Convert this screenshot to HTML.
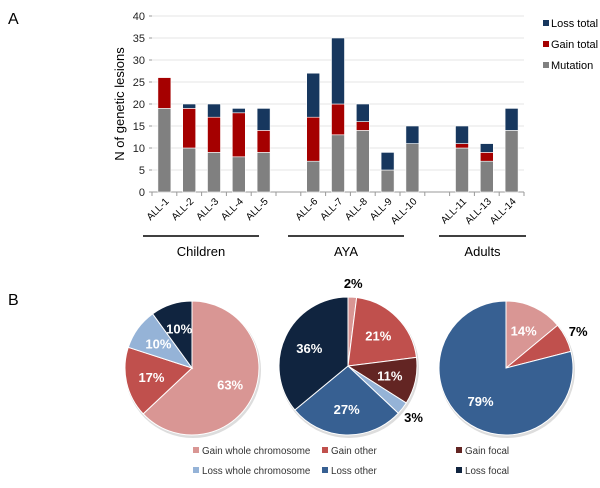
<!DOCTYPE html>
<html><head><meta charset="utf-8"><style>
body{margin:0;background:#fff;font-family:"Liberation Sans",sans-serif;}
svg text{font-family:"Liberation Sans",sans-serif;}
</style></head><body>
<svg id="c" width="600" height="483" viewBox="0 0 600 483" xmlns="http://www.w3.org/2000/svg">
<text x="8" y="24" font-size="16">A</text>
<text x="8" y="305" font-size="16">B</text>
<g id="bars"></g>
<g id="pies"></g>
</svg>
<script>
const categories=["ALL-1","ALL-2","ALL-3","ALL-4","ALL-5","","ALL-6","ALL-7","ALL-8","ALL-9","ALL-10","","ALL-11","ALL-13","ALL-14"];
const mutation=[19,10,9,8,9,null,7,13,14,5,11,null,10,7,14];
const gainTotal=[7,9,8,10,5,null,10,7,2,0,0,null,1,2,0];
const lossTotal=[0,1,3,1,5,null,10,15,4,4,4,null,4,2,5];
const yTicks=[0,5,10,15,20,25,30,35,40];
const pieLabels=["Gain whole chromosome","Gain other","Gain focal","Loss whole chromosome","Loss other","Loss focal"];
const pieChildren=[63,17,0,10,0,10];
const pieAYA=[2,21,11,3,27,36];
const pieAdults=[14,7,0,0,79,0];
const NS="http://www.w3.org/2000/svg";
function mk(t,a,p){const e=document.createElementNS(NS,t);for(const k in a)e.setAttribute(k,a[k]);p.appendChild(e);return e;}
const gb=document.getElementById('bars');
const x0=152,x1=524,yb=192,yt=16;
const bw=(x1-x0)/categories.length;
const y=v=>yb-(v/40)*(yb-yt);
const xc=i=>x0+(i+0.5)*bw;
yTicks.forEach(t=>{
 const l=mk('line',{x1:x0,x2:x1,y1:y(t),y2:y(t),stroke:t?'#e4e4e4':'#999','stroke-width':1},gb);
 
 
 const tx=mk('text',{x:x0-7,y:y(t)+4,'font-size':11,'text-anchor':'end',fill:'#222'},gb);
 tx.textContent=t;
 
 
 mk('line',{x1:x0-3,x2:x0,y1:y(t),y2:y(t),stroke:'#999'},gb);
});
const yl=mk('text',{x:0,y:0,'font-size':13,'text-anchor':'middle',transform:`translate(124,${(yb+yt)/2}) rotate(-90)`},gb);
yl.textContent='N of genetic lesions';


for(let i=0;i<=categories.length;i++){mk('line',{x1:x0+i*bw,x2:x0+i*bw,y1:yb,y2:yb+4,stroke:'#999'},gb);}
const cols=['#808080','#a50000','#17375e'];
categories.forEach((c,i)=>{
 if(!c)return;
 let base=0;
 [mutation[i],gainTotal[i],lossTotal[i]].forEach((v,k)=>{
  if(v>0){const r=mk('rect',{x:xc(i)-6.5,y:y(base+v),width:13,height:y(base)-y(base+v),fill:cols[k],stroke:'#fff','stroke-width':0.6},gb);
  
  }
  base+=v;
 });
 const t=mk('text',{x:0,y:0,'font-size':10,'text-anchor':'end',transform:`translate(${xc(i)+5},${yb+10}) rotate(-45)`},gb);
 t.textContent=c;
 
 
});
[['Children',143,259],['AYA',288,404],['Adults',439,526]].forEach(g=>{
 const a=g[1],b=g[2];
 mk('line',{x1:a,x2:b,y1:236,y2:236,stroke:'#000','stroke-width':1.5},gb);
 const t=mk('text',{x:(a+b)/2,y:256,'font-size':13,'text-anchor':'middle'},gb);
 t.textContent=g[0];
 
 
});
[['Loss total','#17375e',27],['Gain total','#a50000',48],['Mutation','#808080',69]].forEach(l=>{
 mk('rect',{x:543,y:l[2]-7,width:6,height:6,fill:l[1]},gb);
 const t=mk('text',{x:551,y:l[2],'font-size':11},gb);
 t.textContent=l[0];
 
 
});
const gp=document.getElementById('pies');
const pc=['#d99694','#c0504d','#632523','#95b3d7','#376092','#10243f'];
function pie(vals,cx,cy,r,name,outside){
 const tot=vals.reduce((a,b)=>a+b,0);let a0=0;
 mk('circle',{cx:cx+1,cy:cy+2,r:r+1,fill:'#ddd'},gp);
 vals.forEach((v,k)=>{
  if(!v)return;
  const a1=a0+v/tot*2*Math.PI;
  const p=(a)=>[cx+r*Math.sin(a),cy-r*Math.cos(a)];
  const s=p(a0),e=p(a1);
  const path=mk('path',{d:`M${cx},${cy}L${s[0]},${s[1]}A${r},${r} 0 ${a1-a0>Math.PI?1:0} 1 ${e[0]},${e[1]}Z`,fill:pc[k],stroke:'#fff','stroke-width':1},gp);
  
  
  const am=(a0+a1)/2,out=outside.includes(k);
  const rr=out?r+14:r*0.62;
  const t=mk('text',{x:cx+rr*Math.sin(am),y:cy-rr*Math.cos(am)+5,'font-size':13,'font-weight':'bold','text-anchor':'middle',fill:out?'#000':'#fff'},gp);
  t.textContent=v+'%';
  
  
  a0=a1;
 });
}
pie(pieChildren,192,368,67,'pie-children',[]);
pie(pieAYA,348,366,69,'pie-aya',[0,3]);
pie(pieAdults,506,368,67,'pie-adults',[1]);
pieLabels.forEach((l,k)=>{
 const cx=[193,322,456][k%3],cy=k<3?454:474;
 mk('rect',{x:cx,y:cy-7,width:6,height:6,fill:pc[k]},gp);
 const t=mk('text',{x:cx+9,y:cy,'font-size':9.8,fill:'#333'},gp);
 t.textContent=l;
 
 
});
</script>
</body></html>
